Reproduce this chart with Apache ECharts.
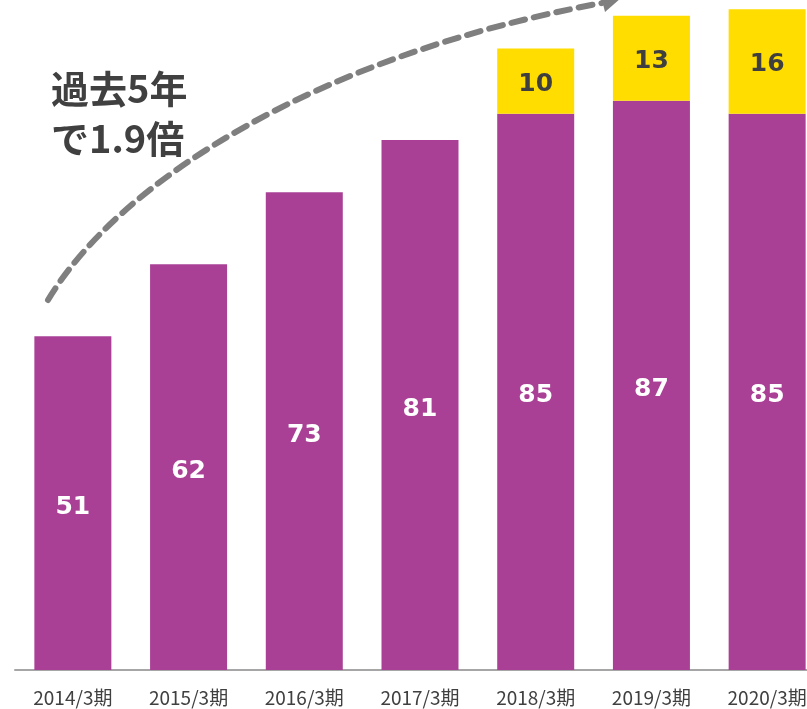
<!DOCTYPE html>
<html>
<head>
<meta charset="utf-8">
<script src="https://cdn.jsdelivr.net/npm/echarts@6/dist/echarts.min.js"></script>
<style>
  html, body { margin: 0; padding: 0; background: #fff; }
  #chart { width: 807px; height: 709px; }
</style>
</head>
<body>
<div id="chart"></div>
<script>
const categories = ['2014/3期', '2015/3期', '2016/3期', '2017/3期', '2018/3期', '2019/3期', '2020/3期']
const baseValues = [51, 62, 73, 81, 85, 87, 85]
const extraValues = [null, null, null, null, 10, 13, 16]

const purple = '#AA4096'
const yellow = '#FFDD00'
const numFont = '"DejaVu Sans", Verdana, sans-serif'
const jpFont = '"Noto Sans CJK JP", sans-serif'

const chart = echarts.init(document.getElementById('chart'))
chart.setOption({
    animation: false,
    // grid runs past the right edge: the last bar is cut off in the original
    grid: { left: 15, width: 810, top: 0, bottom: 39, containLabel: false, outerBoundsMode: 'none' },
    xAxis: {
        type: 'category',
        data: categories,
        axisLine: { lineStyle: { color: '#a6a6a6', width: 2 } },
        axisTick: { show: false },
        axisLabel: { color: '#404040', fontSize: 19, fontFamily: jpFont, margin: 18 }
    },
    yAxis: {
        type: 'value',
        min: 0,
        max: 102.4,
        show: false,
        splitLine: { show: false }
    },
    series: [
        {
            type: 'bar',
            stack: 'total',
            data: baseValues,
            barWidth: 77,
            itemStyle: { color: purple },
            label: {
                show: true,
                position: 'inside',
                offset: [0, 4],
                color: '#fff',
                fontSize: 25,
                fontWeight: 'bold',
                fontFamily: numFont
            }
        },
        {
            type: 'bar',
            stack: 'total',
            data: extraValues,
            barWidth: 77,
            itemStyle: { color: yellow },
            label: {
                show: true,
                position: 'inside',
                offset: [0, 3],
                color: '#3f3f3f',
                fontSize: 25,
                fontWeight: 'bold',
                fontFamily: numFont
            }
        }
    ],
    graphic: [
        {
            type: 'bezierCurve',
            shape: { x1: 48, y1: 300, cpx1: 120, cpy1: 180, cpx2: 320, cpy2: 55, x2: 602, y2: 3 },
            style: {
                stroke: '#7f7f7f',
                lineWidth: 6,
                lineDash: [14, 9],
                lineCap: 'round',
                fill: null
            }
        },
        {
            type: 'polygon',
            shape: { points: [[605, 12], [600, -8], [621, -2]] },
            style: { fill: '#7f7f7f' }
        },
        {
            type: 'text',
            left: 51,
            top: 64,
            style: {
                text: '過去5年\nで1.9倍',
                font: 'bold 38px ' + jpFont,
                lineHeight: 50,
                fill: '#404040'
            }
        }
    ]
})
</script>
</body>
</html>
